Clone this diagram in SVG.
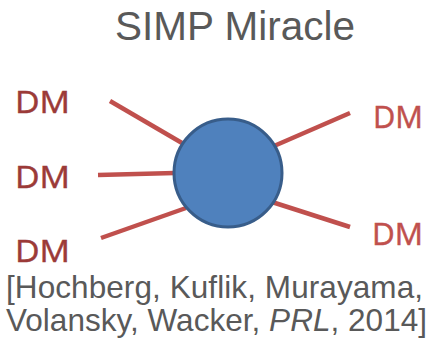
<svg xmlns="http://www.w3.org/2000/svg" width="430" height="349" viewBox="0 0 430 349">
  <style>
    .title { font-family: "Liberation Sans", Arial, sans-serif; font-size: 41px; fill: #595959; }
    .dm { font-family: "Open Sans", "Liberation Sans", sans-serif; font-size: 31px; stroke-width: 0.5; }
    .dm-l { fill: #9b3a38; stroke: #9b3a38; }
    .dm-r { fill: #c0504d; stroke: #c0504d; }
    .leg { stroke: #c0504d; stroke-width: 4.5; stroke-linecap: butt; fill: none; }
    .ball { fill: #4f81bd; stroke: #385d8a; stroke-width: 3; }
    .cite { font-family: "Liberation Sans", Arial, sans-serif; font-size: 31.5px; fill: #595959; }
  </style>
  <rect width="430" height="349" fill="#ffffff"/>

  <text class="title" x="115" y="40" textLength="240" lengthAdjust="spacingAndGlyphs">SIMP Miracle</text>

  <!-- connectors from the external DM legs into the vertex -->
  <g id="connectors">
    <line class="leg" x1="110" y1="101" x2="182" y2="143"/>
    <line class="leg" x1="98" y1="175" x2="175" y2="173"/>
    <line class="leg" x1="101" y1="238" x2="186" y2="208"/>
    <line class="leg" x1="350" y1="113" x2="274" y2="146"/>
    <line class="leg" x1="350" y1="227" x2="272" y2="202"/>
  </g>

  <g id="vertex">
    <circle class="ball" cx="228" cy="173" r="54"/>
  </g>

  <g id="dm-in-1"><text class="dm dm-l" x="15" y="113" textLength="55" lengthAdjust="spacingAndGlyphs">DM</text></g>
  <g id="dm-in-2"><text class="dm dm-l" x="15" y="188" textLength="55" lengthAdjust="spacingAndGlyphs">DM</text></g>
  <g id="dm-in-3"><text class="dm dm-l" x="15" y="262" textLength="55" lengthAdjust="spacingAndGlyphs">DM</text></g>
  <g id="dm-out-1"><text class="dm dm-r" x="373" y="128" textLength="50" lengthAdjust="spacingAndGlyphs">DM</text></g>
  <g id="dm-out-2"><text class="dm dm-r" x="372" y="245" textLength="51" lengthAdjust="spacingAndGlyphs">DM</text></g>

  <text class="cite" x="6" y="298" textLength="417" lengthAdjust="spacing">[Hochberg, Kuflik, Murayama,</text>
  <text class="cite" x="6" y="331" textLength="421" lengthAdjust="spacing">Volansky, Wacker, <tspan font-style="italic">PRL</tspan>, 2014]</text>
</svg>
